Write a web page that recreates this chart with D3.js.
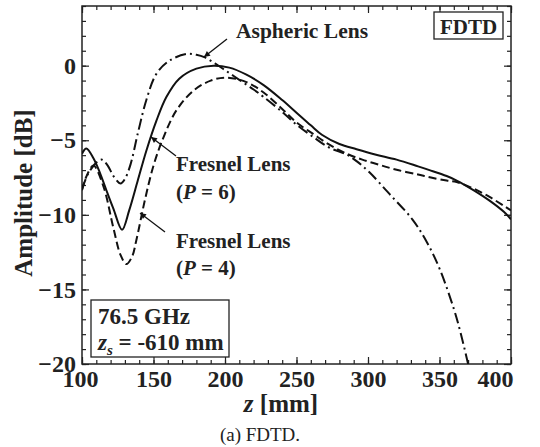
<!DOCTYPE html>
<html><head><meta charset="utf-8">
<script src="https://cdn.jsdelivr.net/npm/d3@7"></script>
<style>
body{margin:0;background:#fff;}
svg{display:block;font-family:"Liberation Serif","Times New Roman",serif;}
</style></head>
<body><svg id="c" width="540" height="447"></svg>
<script>
// ---- data ----
const zP6 = [100,103,108,113,118,122,128,133,139,145,152,159,168,180,192,203,215,227,240,250,260,268,280,292,305,320,335,343,355,362,374,385,395,400];
const ampP6 = [-5.9,-5.55,-6.2,-7.3,-8.6,-9.6,-11.0,-9.7,-7.7,-5.7,-3.7,-2.1,-0.87,-0.2,0.0,-0.13,-0.6,-1.3,-2.3,-3.15,-4.0,-4.65,-5.25,-5.6,-5.95,-6.3,-6.75,-7.0,-7.4,-7.7,-8.36,-9.05,-9.8,-10.3];
const zP4 = [100,103,108,115,122,127,131,135,138,144,150,157,166,178,190,201,215,227,240,250,262,273,285,296,308,320,335,344,355,362,374,385,395,400];
const ampP4 = [-8.35,-7.45,-6.7,-8.1,-10.9,-12.7,-13.3,-12.8,-11.7,-9.0,-6.7,-4.8,-3.0,-1.67,-1.0,-0.8,-1.1,-1.8,-2.9,-3.8,-4.6,-5.3,-5.9,-6.3,-6.65,-6.98,-7.3,-7.5,-7.7,-7.8,-8.25,-8.8,-9.4,-9.7];
const zAsph = [100,104,110,114,118,122,127,130,134,139,145,152,161,173,180,186,193,200,210,220,227,240,250,262,273,285,292,301,315,331,341,350,360,365,370];
const ampAsph = [-8.3,-7.3,-6.5,-6.3,-6.7,-7.4,-7.9,-7.6,-6.6,-4.55,-2.3,-0.55,0.33,0.78,0.73,0.55,0.15,-0.3,-0.95,-1.6,-2.1,-3.1,-3.95,-4.8,-5.5,-5.95,-6.4,-7.15,-8.6,-10.3,-11.8,-13.6,-16.3,-18.0,-20.0];
const xMajorTicks = [100,150,200,250,300,350,400];
const yMajorTicks = [-20,-15,-10,-5,0];

const svg = d3.select("#c");
const L=82, R=511, T=6, B=364;
const x = d3.scaleLinear().domain([100,400]).range([L,R]);
const y = d3.scaleLinear().domain([-20,4]).range([B,T]);

const xMinor = d3.range(100,401,10);
const yMinor = d3.range(-20,5,1);

function styleAxis(g){
  g.select(".domain").remove();
  g.selectAll("line").attr("stroke","#222").attr("stroke-width",1.2);
  g.selectAll("text").attr("font-size",24).attr("font-weight","bold").attr("fill","#222")
   .attr("font-family","Liberation Serif, Times New Roman, serif");
}
// bottom
svg.append("g").attr("transform",`translate(0,${B})`)
  .call(d3.axisBottom(x).tickValues(xMinor).tickSize(-4).tickFormat(""))
  .call(styleAxis);
const gxb = svg.append("g").attr("transform",`translate(0,${B})`)
  .call(d3.axisBottom(x).tickValues(xMajorTicks).tickSize(-7).tickPadding(6).tickFormat(d3.format("d")))
  .call(styleAxis);
gxb.selectAll(".tick text").attr("dx", d => d===100 ? -2 : 0);
gxb.selectAll(".tick").filter(d=>d===400).select("text").attr("text-anchor","end").attr("x",2);
// top
svg.append("g").attr("transform",`translate(0,${T})`)
  .call(d3.axisTop(x).tickValues(xMinor).tickSize(-4).tickFormat(""))
  .call(styleAxis);
svg.append("g").attr("transform",`translate(0,${T})`)
  .call(d3.axisTop(x).tickValues(xMajorTicks).tickSize(-7).tickFormat(""))
  .call(styleAxis);
// left
svg.append("g").attr("transform",`translate(${L},0)`)
  .call(d3.axisLeft(y).tickValues(yMinor).tickSize(-4).tickFormat(""))
  .call(styleAxis);
svg.append("g").attr("transform",`translate(${L},0)`)
  .call(d3.axisLeft(y).tickValues(yMajorTicks).tickSize(-7).tickPadding(6).tickFormat(d3.format("d")))
  .call(styleAxis);
// right
svg.append("g").attr("transform",`translate(${R},0)`)
  .call(d3.axisRight(y).tickValues(yMinor).tickSize(-4).tickFormat(""))
  .call(styleAxis);
svg.append("g").attr("transform",`translate(${R},0)`)
  .call(d3.axisRight(y).tickValues(yMajorTicks).tickSize(-7).tickFormat(""))
  .call(styleAxis);

// frame
svg.append("rect").attr("x",L).attr("y",T).attr("width",R-L).attr("height",B-T)
  .attr("fill","none").attr("stroke","#222").attr("stroke-width",1.5);

// clip
svg.append("clipPath").attr("id","clip").append("rect")
  .attr("x",L).attr("y",T).attr("width",R-L).attr("height",B-T);

const line = d3.line().x(d=>x(d[0])).y(d=>y(d[1])).curve(d3.curveCatmullRom.alpha(0.5));
const plot = svg.append("g").attr("clip-path","url(#clip)");
function series(zs, vs, dash){
  plot.append("path").datum(zs.map((z,i)=>[z,vs[i]]))
    .attr("d",line).attr("fill","none").attr("stroke","#111")
    .attr("stroke-width",2).attr("stroke-dasharray",dash);
}
series(zAsph, ampAsph, "11,4,2,4");
series(zP4, ampP4, "8,4");
series(zP6, ampP6, null);

// arrow marker
svg.append("defs").append("marker").attr("id","arr")
  .attr("viewBox","0 0 10 10").attr("refX",10).attr("refY",5)
  .attr("markerWidth",11).attr("markerHeight",6).attr("markerUnits","userSpaceOnUse")
  .attr("orient","auto")
  .append("path").attr("d","M0,0L10,5L0,10z").attr("fill","#111");
function arrow(x1,y1,x2,y2){
  svg.append("line").attr("x1",x1).attr("y1",y1).attr("x2",x2).attr("y2",y2)
    .attr("stroke","#111").attr("stroke-width",1.3).attr("marker-end","url(#arr)");
}
arrow(227,39,204,57);
arrow(176,156,151,137);
arrow(165,232,140,213);

function label(tx,ty,txt,size){
  return svg.append("text").attr("x",tx).attr("y",ty).attr("font-size",size)
    .attr("font-weight","bold").attr("fill","#222").text(txt);
}
label(236,38,"Aspheric Lens",21.5);
label(176,171,"Fresnel Lens",21);
const p6 = svg.append("text").attr("x",176).attr("y",199).attr("font-size",21).attr("font-weight","bold").attr("fill","#222");
p6.append("tspan").text("(");
p6.append("tspan").attr("font-style","italic").text("P");
p6.append("tspan").text(" = 6)");
label(176,248,"Fresnel Lens",21);
const p4 = svg.append("text").attr("x",176).attr("y",275).attr("font-size",21).attr("font-weight","bold").attr("fill","#222");
p4.append("tspan").text("(");
p4.append("tspan").attr("font-style","italic").text("P");
p4.append("tspan").text(" = 4)");

// FDTD box
svg.append("rect").attr("x",434).attr("y",12).attr("width",69).attr("height",27)
  .attr("fill","#fff").attr("stroke","#222").attr("stroke-width",1.3);
svg.append("text").attr("x",468.5).attr("y",34).attr("text-anchor","middle")
  .attr("font-size",21).attr("font-weight","bold").attr("fill","#222").text("FDTD");

// condition box
svg.append("rect").attr("x",91).attr("y",300).attr("width",138).attr("height",57)
  .attr("fill","#fff").attr("stroke","#222").attr("stroke-width",1.3);
label(98,324,"76.5 GHz",23);
const zs = svg.append("text").attr("x",98).attr("y",350).attr("font-size",23).attr("font-weight","bold").attr("fill","#222");
zs.append("tspan").attr("font-style","italic").text("z");
zs.append("tspan").attr("font-style","italic").attr("font-size",15).attr("dy",5).text("s");
zs.append("tspan").attr("dy",-5).text(" = -610 mm");

// axis titles
const xt = svg.append("text").attr("x",281).attr("y",412).attr("text-anchor","middle")
  .attr("font-size",25).attr("font-weight","bold").attr("fill","#222");
xt.append("tspan").attr("font-style","italic").text("z");
xt.append("tspan").text(" [mm]");
svg.append("text").attr("transform","translate(32,193) rotate(-90)").attr("text-anchor","middle")
  .attr("font-size",25).attr("font-weight","bold").attr("fill","#222").text("Amplitude [dB]");

// caption
svg.append("text").attr("x",260).attr("y",441).attr("text-anchor","middle")
  .attr("font-size",19).attr("fill","#222").text("(a) FDTD.");
</script></body></html>
